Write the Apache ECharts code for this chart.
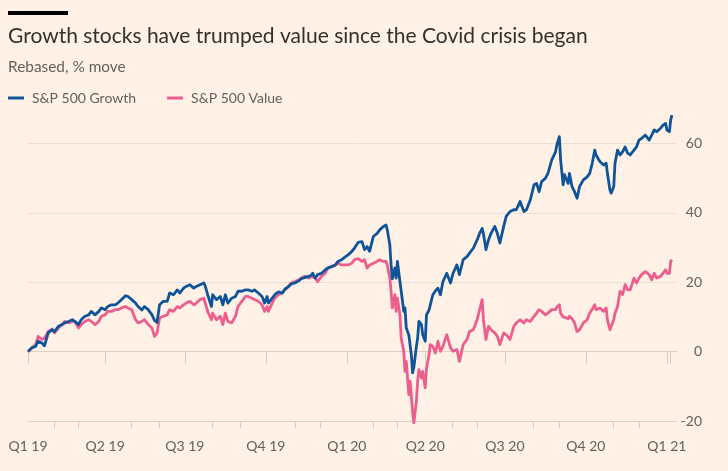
<!DOCTYPE html>
<html>
<head>
<meta charset="utf-8">
<script src="https://cdn.jsdelivr.net/npm/echarts@6/dist/echarts.min.js"></script>
<style>
  html, body { margin: 0; padding: 0; background: #fff1e5; }
  #chart { width: 728px; height: 471px; }
</style>
</head>
<body>
<div id="chart"></div>
<script>
// x = trading-day index since 2 Jan 2019
const days = [0,3,6,8,11,13,16,19,21,24,27,29,32,35,37,40,42,45,48,50,53,56,58,61,63,66,69,71,74,77,79,82,85,87,90,92,95,98,100,102,104,107,110,112,115,118,120,123,125,128,131,133,136,139,140,142,145,146,149,152,154,156,158,161,164,166,169,172,174,177,179,182,185,187,189,190,193,195,198,201,203,206,208,211,214,216,219,222,224,225,227,229,232,235,237,240,243,245,248,251,253,256,258,261,264,266,268,270,273,276,278,281,283,284,286,287,288,290,291,292,294,295,297,298,299,301,302,303,304,305,307,308,309,311,312,314,315,317,318,320,322,324,326,328,331,334,336,339,341,344,347,349,352,355,357,359,360,362,364,366,369,371,373,376,378,381,384,386,389,392,394,397,400,402,404,406,409,411,414,417,418,420,421,423,424,427,428,430,432,434,436,439,442,444,446,448,449,452,455,457,458,460,461,463,464,466,468,470,472,474,476,479,481,483,485,488,491,493,495,497,500,502,504,505,507,508,509];
const growth = [0,1.1,1.5,3.0,2.5,1.7,5.4,6.3,5.8,7.3,7.8,8.3,8.7,9.2,8.7,7.8,9.2,10.2,10.6,11.6,10.6,11.6,12.6,12.1,13.0,13.5,13.5,14.0,15.0,16.1,15.9,15.0,14.0,13.0,12.0,13.0,12.1,10.6,9.0,8.4,13.5,14.5,14.5,16.9,16.4,17.8,16.9,18.3,18.8,19.3,18.3,18.8,19.3,19.8,19.0,16.4,13.0,16.4,15.0,15.9,13.5,16.4,14.0,15.4,15.9,17.4,17.4,17.8,17.8,17.4,17.8,16.9,15.9,14.0,15.9,14.0,15.4,16.4,17.2,16.9,18.0,18.8,19.5,19.8,20.4,21.0,21.4,21.7,22.0,22.6,21.2,22.2,22.6,23.6,24.1,24.5,25.0,26.0,26.5,27.4,27.9,28.9,29.8,31.5,31.7,29.4,30.3,28.9,33.2,34.1,35.1,36.1,36.5,35.1,30.8,25.0,21.0,24.1,21.2,26.0,20.2,17.4,11.6,12.6,6.8,4.9,2.0,-0.9,-6.1,-4.5,1.5,3.9,8.7,7.8,4.9,3.0,10.6,12.0,13.5,16.4,17.5,18.3,16.4,20.2,22.6,19.8,22.6,25.0,22.2,26.5,27.4,28.4,29.8,32.2,34.1,35.5,34.0,29.4,32.2,34.1,36.1,34.1,31.3,36.1,39.0,40.4,40.9,40.9,43.3,40.4,40.9,43.7,48.1,48.5,46.1,49.0,50.0,51.4,55.3,57.6,59.6,62.0,55.3,48.1,51.0,48.5,51.4,47.6,46.1,44.2,47.6,49.5,50.4,51.4,54.3,58.1,56.7,54.8,53.8,54.3,51.4,46.6,45.7,47.6,54.3,58.1,56.7,57.6,59.0,57.2,56.7,58.1,59.0,61.0,61.5,62.4,61.0,62.4,63.9,63.4,64.4,65.3,65.8,63.9,63.4,66.8,68.2];
const value = [0,1.0,2.0,4.4,3.5,3.9,5.8,6.5,5.4,6.8,7.8,8.7,8.3,8.7,8.7,6.8,7.8,8.7,9.2,8.7,7.8,8.7,10.2,10.6,11.6,11.6,12.1,12.1,12.6,13.0,12.6,12.1,9.2,8.3,8.7,9.2,7.8,6.8,4.4,5.4,9.7,10.2,10.6,12.1,11.6,13.0,12.6,13.5,14.0,14.5,13.5,14.0,15.0,15.4,15.0,11.6,9.2,11.1,9.2,10.2,7.8,11.1,8.7,8.3,10.2,13.0,14.5,15.9,15.9,15.4,15.0,14.5,13.5,11.6,13.0,11.6,14.0,15.4,16.4,16.9,17.8,18.8,19.8,20.2,20.7,21.2,21.7,21.2,21.7,21.7,21.2,20.2,21.7,22.6,24.1,24.5,25.0,25.5,25.0,25.0,25.0,25.5,26.5,26.8,26.0,26.5,24.1,25.0,25.5,26.0,26.5,26.0,26.0,25.0,21.2,17.4,12.6,16.4,11.6,15.4,10.6,3.9,0.1,-5.7,-2.8,-12.4,-8.5,-12.9,-17.2,-20.5,-14.3,-8.5,-5.2,-7.6,-5.7,-10.4,-4.7,-0.9,2.0,1.5,-0.4,3.0,0.1,1.5,4.9,1.1,0.1,0.6,-2.8,2.0,3.5,5.8,6.3,9.2,12.1,15.0,9.2,3.5,7.3,6.3,5.4,4.4,2.0,5.4,4.9,3.5,7.3,8.3,9.2,8.3,9.2,8.7,10.2,11.1,12.1,11.6,10.6,11.1,12.1,12.1,12.8,13.5,11.1,10.0,10.0,9.5,10.2,9.5,8.3,5.8,6.3,8.3,9.2,11.1,12.2,13.5,12.1,12.6,11.6,12.6,9.2,6.3,6.3,9.2,11.0,13.0,17.4,16.4,19.3,17.8,17.8,21.2,19.8,21.2,22.2,23.1,22.2,20.7,22.6,21.2,21.7,22.6,23.6,22.6,22.6,26.0,26.5];

const quarterDays = [0,61,124,188,252,314,377,441,505];
const quarterLabels = ['Q1 19','Q2 19','Q3 19','Q4 19','Q1 20','Q2 20','Q3 20','Q4 20','Q1 21'];
const lastDay = 508;
const monthDays = [21,40,82,104,146,168,211,231,273,292,335,355,399,420,463,483];
const seriesNames = ['S&P 500 Growth','S&P 500 Value'];

const FONT = 'Lato, "Noto Sans", sans-serif';
const GREY = '#66605c';

const chart = echarts.init(document.getElementById('chart'), null, { renderer: 'canvas' });
const pair = arr => days.map((d, i) => [d, arr[i]]);

chart.setOption({
  backgroundColor: '#fff1e5',
  animation: false,
  textStyle: { fontFamily: FONT },
  graphic: [
    { type: 'rect', left: 8, top: 11, shape: { width: 60, height: 4 }, style: { fill: '#000000' } },
    { type: 'text', left: 8, top: 26, style: { text: 'Growth stocks have trumped value since the Covid crisis began', font: '400 21px ' + FONT, fill: '#33302e' } },
    { type: 'text', left: 8, top: 60, style: { text: 'Rebased, % move', font: '400 15.4px ' + FONT, fill: GREY } }
  ],
  legend: {
    data: seriesNames,
    left: 8, top: 91, padding: 0,
    icon: 'rect', itemWidth: 16, itemHeight: 3, itemGap: 31,
    textStyle: { fontSize: 14, color: GREY, fontFamily: FONT, padding: [0, 0, 0, 3] }
  },
  grid: { left: 28, right: 51, top: 143.5, bottom: 50, containLabel: false },
  xAxis: [
    {
      type: 'value', min: 0, max: 513, position: 'bottom',
      axisLine: { show: true, lineStyle: { color: '#dcd0c5', width: 1 } },
      axisTick: { show: true, customValues: quarterDays.concat([lastDay]), length: 12, lineStyle: { color: '#d6cabf' } },
      axisLabel: {
        show: true, customValues: quarterDays, margin: 18, fontSize: 14, color: GREY, fontFamily: FONT,
        formatter: v => quarterLabels[quarterDays.indexOf(v)] || ''
      },
      splitLine: { show: false }
    },
    {
      type: 'value', min: 0, max: 513, position: 'bottom', offset: 0, gridIndex: 0,
      axisLine: { show: false },
      axisTick: { show: true, customValues: monthDays, length: 7, lineStyle: { color: '#d6cabf' } },
      axisLabel: { show: false },
      splitLine: { show: false }
    }
  ],
  yAxis: {
    type: 'value', position: 'right', min: -20, max: 60, interval: 20,
    axisLine: { show: false }, axisTick: { show: false },
    axisLabel: { align: 'right', margin: 25, fontSize: 14, color: GREY, fontFamily: FONT },
    splitLine: { show: true, lineStyle: { color: ['#dcd0c5', '#d3c7bc', '#ebe0d6', '#ebe0d6', '#ebe0d6'], width: 1 } }
  },
  series: [
    {
      name: seriesNames[1], type: 'line', xAxisIndex: 0, data: pair(value),
      showSymbol: false, symbol: 'none', clip: false,
      lineStyle: { color: '#eb5e8d', width: 2.8, join: 'round' }, itemStyle: { color: '#eb5e8d' }
    },
    {
      name: seriesNames[0], type: 'line', xAxisIndex: 0, data: pair(growth),
      showSymbol: false, symbol: 'none', clip: false,
      lineStyle: { color: '#0f5499', width: 2.8, join: 'round' }, itemStyle: { color: '#0f5499' }
    }
  ]
});
</script>
</body>
</html>
